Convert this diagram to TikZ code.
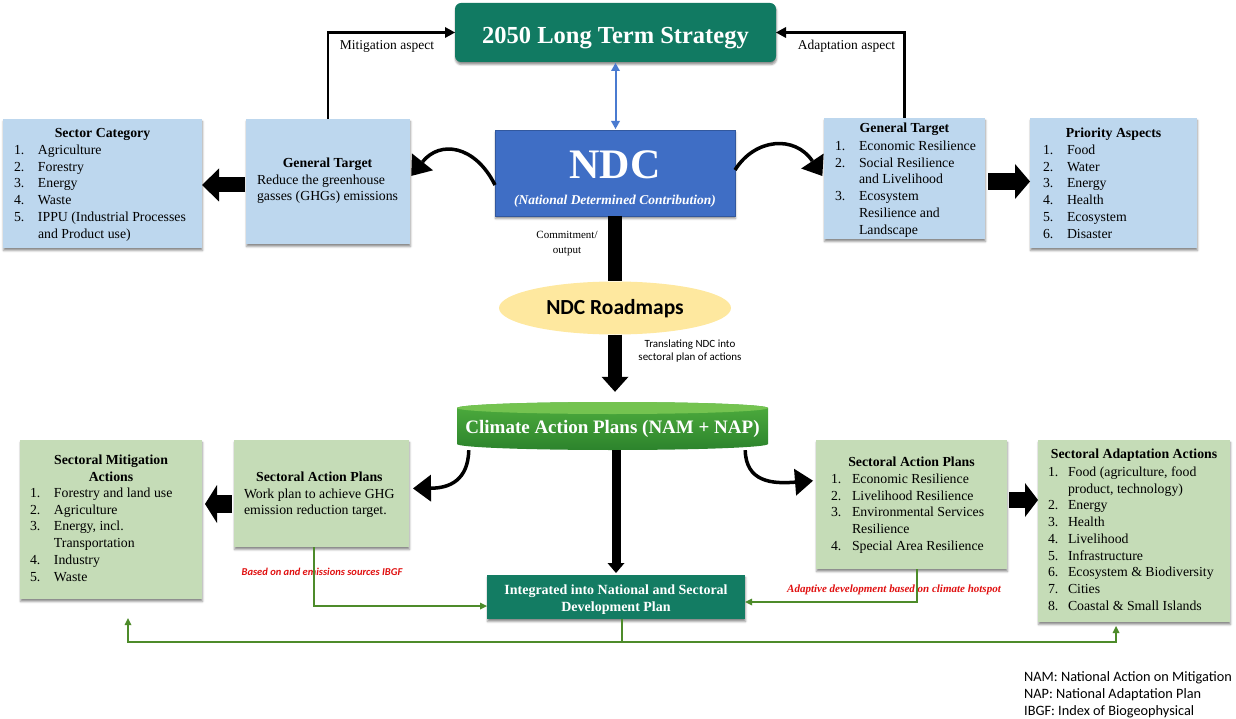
\documentclass[tikz,border=0pt]{standalone}
\usepackage{fontspec}
\setmainfont{Liberation Serif}
\newfontfamily\carl{Carlito}
\usetikzlibrary{arrows.meta,shapes.geometric,shadows.blur}

\definecolor{ltsTeal}{HTML}{117A62}
\definecolor{intTeal}{HTML}{137C63}
\definecolor{ndcBlue}{HTML}{3F6EC5}
\definecolor{paneBlue}{HTML}{BDD7EE}
\definecolor{paneGreen}{HTML}{C5DCB7}
\definecolor{rmYellow}{HTML}{FEE89F}
\definecolor{capTop}{HTML}{74C350}
\definecolor{capLight}{HTML}{4FAE3E}
\definecolor{capDark}{HTML}{2C832C}
\definecolor{lineGreen}{HTML}{4D8B2A}
\definecolor{linkBlue}{HTML}{4A7BD0}
\definecolor{noteRed}{HTML}{E01010}

\newcommand{\lstfont}{\fontsize{13.8}{16.7}\selectfont}

\begin{document}
\begin{tikzpicture}[x=1pt,y=-1pt,
  panel/.style={rectangle, inner sep=0pt, outer sep=0pt,
    blur shadow={shadow xshift=0.5pt, shadow yshift=-2.5pt, shadow blur radius=2pt, shadow opacity=45}},
  bluepanel/.style={panel, fill=paneBlue},
  greenpanel/.style={panel, fill=paneGreen},
  txt/.style={inner sep=0pt, outer sep=0pt, font=\lstfont},
  ttl/.style={txt, anchor=base, font=\lstfont\bfseries},
  lst/.style={txt, anchor=north west},
  fatarrow/.style={draw=black, line width=#1},
  curv/.style={draw=black, line width=3.5pt, -{Triangle[length=18pt,width=27pt,line width=0pt]}},
  thinblack/.style={draw=black, line width=2.5pt, -{Triangle[length=10pt,width=11pt,line width=0pt]}},
  gline/.style={draw=lineGreen, line width=1.6pt, -{Triangle[length=7pt,width=7pt,line width=0pt]}},
  gplain/.style={draw=lineGreen, line width=1.6pt},
  note/.style={inner sep=0pt, anchor=base, text=noteRed}
]
\useasboundingbox (0,0) rectangle (1236,719);

% ---------- top row ----------
\node[panel, fill=ltsTeal, rounded corners=6pt, minimum width=321pt, minimum height=59pt] (lts) at (615.5,32.5) {};
\node[inner sep=0pt, anchor=base, text=white, font=\fontsize{24.5}{28}\selectfont\bfseries] (ltsT) at (615.5,43.3) {2050 Long Term Strategy};

\node[panel, fill=ndcBlue, draw=ndcBlue!80!black, line width=0.8pt, minimum width=240pt, minimum height=86pt] (ndc) at (615,173) {};
\node[inner sep=0pt, anchor=base, text=white, font=\fontsize{42}{46}\selectfont\bfseries] (ndcT) at (615,178.5) {NDC};
\node[inner sep=0pt, anchor=base, text=white, font=\fontsize{13.5}{16}\selectfont\bfseries\itshape] (ndcS) at (615,204.5) {(National Determined Contribution)};

\node[bluepanel, minimum width=199pt, minimum height=129pt] (sc) at (102.5,183.5) {};
\node[ttl] (scT) at (102.5,137.6) {Sector Category};
\node[lst] (scL) at (14,142.9) {\begin{tabular}{@{}p{24pt}@{}l@{}}
1. & Agriculture\\ 2. & Forestry\\ 3. & Energy\\ 4. & Waste\\
5. & IPPU (Industrial Processes\\ & and Product use)\end{tabular}};

\node[bluepanel, minimum width=164pt, minimum height=125pt] (gtl) at (328,181.5) {};
\node[lst] (gtlT) at (257,155.9) {\begin{tabular}{@{}l@{}}
\multicolumn{1}{@{}c@{}}{\textbf{General Target}}\\ Reduce the greenhouse\\ gasses (GHGs) emissions\end{tabular}};

\node[bluepanel, minimum width=161pt, minimum height=121pt] (gtr) at (904.5,178.5) {};
\node[ttl] (gtrT) at (904.5,132.6) {General Target};
\node[lst] (gtrL) at (835,138.9) {\begin{tabular}{@{}p{24pt}@{}l@{}}
1. & Economic Resilience\\ 2. & Social Resilience\\ & and Livelihood\\
3. & Ecosystem\\ & Resilience and\\ & Landscape\end{tabular}};

\node[bluepanel, minimum width=167pt, minimum height=130pt] (pa) at (1113.5,183) {};
\node[ttl] (paT) at (1113.5,137.6) {Priority Aspects};
\node[lst] (paL) at (1043,142.9) {\begin{tabular}{@{}p{24pt}@{}l@{}}
1. & Food\\ 2. & Water\\ 3. & Energy\\ 4. & Health\\ 5. & Ecosystem\\ 6. & Disaster\end{tabular}};

% ---------- middle ----------
\node[inner sep=0pt, anchor=base, align=center, font=\fontsize{11}{15}\selectfont] (commit) at (567,253.5) {Commitment/\\output};
\node[ellipse, fill=rmYellow, inner sep=0pt, minimum width=232pt, minimum height=53pt] (rm) at (615,308) {};
\node[inner sep=0pt, anchor=base, font=\carl\fontsize{21.5}{24}\selectfont\bfseries] (rmT) at (615,314) {NDC Roadmaps};
\node[inner sep=0pt, anchor=base, align=center, font=\carl\fontsize{11}{13}\selectfont] (transl) at (690,360.5) {Translating NDC into\\sectoral plan of actions};

% climate action plans disc
\node[inner sep=0pt, minimum width=311pt, minimum height=48pt] (cap) at (612.5,426) {};
\shade[top color=capLight, bottom color=capDark]
  (457,408) -- (457,444) arc[start angle=180, end angle=360, x radius=155.5pt, y radius=6pt]
  -- (768,408) arc[start angle=0, end angle=180, x radius=155.5pt, y radius=6pt] -- cycle;
\fill[capTop] (612.5,408) ellipse [x radius=155.5pt, y radius=6pt];
\node[inner sep=0pt, anchor=base, text=white, font=\fontsize{19}{22}\selectfont\bfseries] (capT) at (612.5,433.3) {Climate Action Plans (NAM + NAP)};

% ---------- bottom row ----------
\node[greenpanel, minimum width=182pt, minimum height=159pt] (mit) at (111,519.5) {};
\node[ttl, align=center] (mitT) at (111,481.3) {Sectoral Mitigation\\Actions};
\node[lst] (mitL) at (30,485.9) {\begin{tabular}{@{}p{24pt}@{}l@{}}
1. & Forestry and land use\\ 2. & Agriculture\\ 3. & Energy, incl.\\ & Transportation\\
4. & Industry\\ 5. & Waste\end{tabular}};

\node[greenpanel, minimum width=175pt, minimum height=107pt] (sapl) at (321.5,493.5) {};
\node[lst] (saplT) at (244,469.9) {\begin{tabular}{@{}l@{}}
\multicolumn{1}{@{}c@{}}{\textbf{Sectoral Action Plans}}\\ Work plan to achieve GHG\\ emission reduction target.\end{tabular}};

\node[greenpanel, minimum width=191pt, minimum height=129pt] (sapr) at (911.5,504.5) {};
\node[ttl] (saprT) at (911.5,466.6) {Sectoral Action Plans};
\node[lst] (saprL) at (831,471.9) {\begin{tabular}{@{}p{21pt}@{}l@{}}
1. & Economic Resilience\\ 2. & Livelihood Resilience\\ 3. & Environmental Services\\
& Resilience\\ 4. & Special Area Resilience\end{tabular}};

\node[greenpanel, minimum width=192pt, minimum height=182pt] (adp) at (1134,531) {};
\node[ttl] (adpT) at (1134,458.6) {Sectoral Adaptation Actions};
\node[lst] (adpL) at (1048,464.9) {\begin{tabular}{@{}p{20pt}@{}l@{}}
1. & Food (agriculture, food\\ & product, technology)\\ 2. & Energy\\ 3. & Health\\
4. & Livelihood\\ 5. & Infrastructure\\ 6. & Ecosystem \& Biodiversity\\ 7. & Cities\\
8. & Coastal \& Small Islands\end{tabular}};

\node[panel, fill=intTeal, minimum width=258pt, minimum height=44pt] (int) at (616,597) {};
\node[inner sep=0pt, anchor=base, align=center, text=white, font=\fontsize{14}{17}\selectfont\bfseries] (intT) at (616,611.7) {Integrated into National and Sectoral\\Development Plan};

\node[note, font=\carl\fontsize{10.5}{12}\selectfont\bfseries\itshape] (noteL) at (322,575.5) {Based on and emissions sources IBGF};
\node[note, font=\fontsize{11}{13}\selectfont\bfseries\itshape] (noteR) at (894,592.5) {Adaptive development based on climate hotspot};

% legend
\node[inner sep=0pt, anchor=base west, align=left, font=\carl\fontsize{14.3}{17}\selectfont] (legend) at (1024,715.5)
  {NAM: National Action on Mitigation\\NAP: National Adaptation Plan\\IBGF: Index of Biogeophysical};

% ---------- connectors ----------
\draw[thinblack] (gtl.north) |- (lts.west);
\node[inner sep=0pt, anchor=base, font=\fontsize{13.5}{16}\selectfont] (mitA) at (387,49.5) {Mitigation aspect};
\draw[thinblack] (gtr.north) |- (lts.east);
\node[inner sep=0pt, anchor=base, font=\fontsize{13.5}{16}\selectfont] (adpA) at (846.5,49.5) {Adaptation aspect};

\draw[draw=linkBlue, line width=2pt, {Triangle[length=8pt,width=9pt,line width=0pt]}-{Triangle[length=8pt,width=9pt,line width=0pt]}, shorten <=1pt, shorten >=1pt]
  (lts.south) -- (lts.south |- ndc.north);

\draw[curv, shorten >=2pt] ([yshift=-12pt]ndc.west) .. controls (475,145) and (440,140) .. ([yshift=4pt]gtl.east);
\draw[curv, shorten >=3pt] ([yshift=3pt]ndc.east) .. controls (755,138) and (795,135) .. (gtr.west);

\path ([yshift=-3.5pt]gtl.west) coordinate (baL);
\draw[fatarrow=15pt, -{Triangle[length=17pt,width=33pt,line width=0pt]}, shorten <=1pt] (baL) -- (baL -| sc.east);
\path ([yshift=-3pt]gtr.east) coordinate (baR);
\draw[fatarrow=17pt, -{Triangle[length=15pt,width=35pt,line width=0pt]}, shorten <=3pt] (baR) -- (baR -| pa.west);

\draw[fatarrow=14pt] (ndc.south) -- (ndc.south |- rm.north);
\draw[fatarrow=14pt, -{Triangle[length=15pt,width=27pt,line width=0pt]}, shorten >=10pt] (rm.south) -- (rm.south |- cap.north);
\draw[fatarrow=9pt, -{Triangle[length=10pt,width=17pt,line width=0pt]}, shorten >=2pt] (int.north |- cap.south) -- (int.north);

\draw[curv, shorten >=4pt] ([xshift=12pt]cap.south west) .. controls (468,480) and (450,488) .. ([yshift=5pt]sapl.east);
\draw[curv, shorten >=3pt] ([xshift=-23pt]cap.south east) .. controls (746,482) and (772,484) .. ([yshift=24pt]sapr.west);

\path ([yshift=-10.5pt]sapl.west) coordinate (baBL);
\draw[fatarrow=18pt, -{Triangle[length=12pt,width=38pt,line width=0pt]}, shorten <=2pt, shorten >=3pt] (baBL) -- (baBL -| mit.east);
\path ([yshift=4.5pt]sapr.east) coordinate (baBR);
\draw[fatarrow=16pt, -{Triangle[length=13pt,width=34pt,line width=0pt]}, shorten <=2pt] (baBR) -- (baBR -| adp.west);

\draw[gline] ([xshift=-7.5pt]sapl.south) |- ([yshift=-9pt]int.west);
\draw[gline] ([xshift=5.5pt]sapr.south) |- ([yshift=-5pt]int.east);
\draw[gplain] ([xshift=6pt]int.south) -- ++(0,23) coordinate (gb);
\draw[gline, shorten >=19pt] (gb) -| ([xshift=17pt]mit.south);
\draw[gline, shorten >=4pt] (gb) -| ([xshift=-18pt]adp.south);
\end{tikzpicture}
\end{document}
